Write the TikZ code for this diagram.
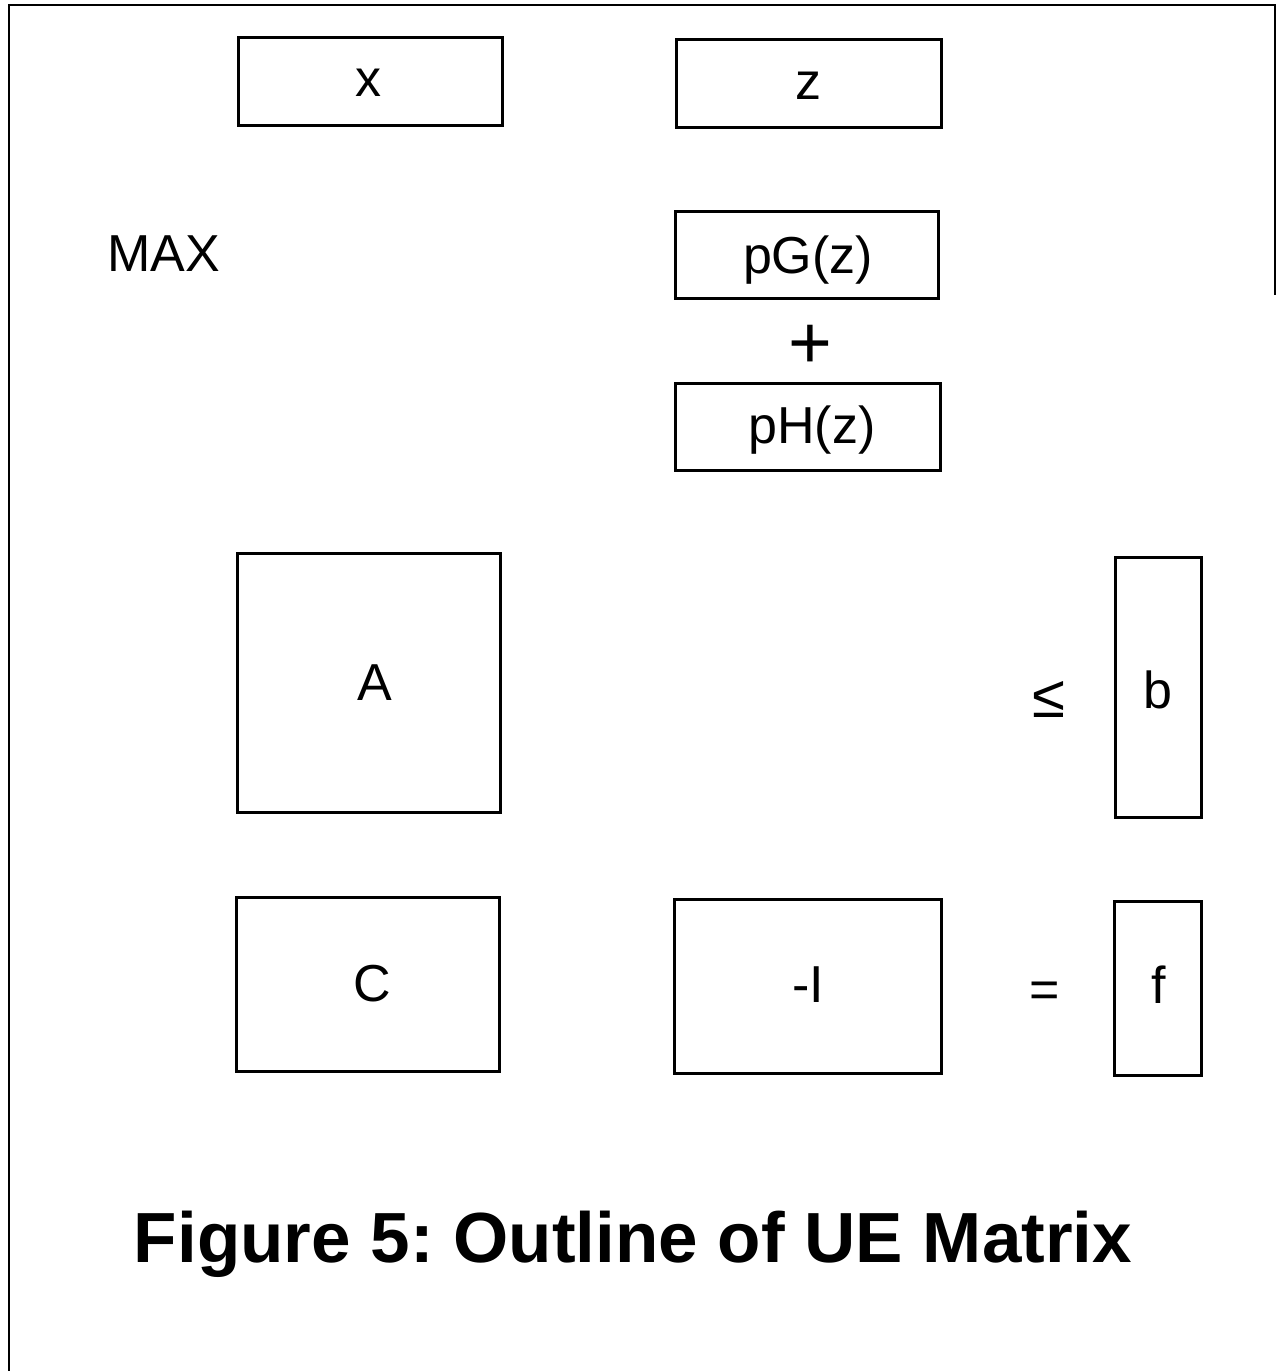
\documentclass[tikz,border=0pt]{standalone}
\usepackage{fontspec}
\setmainfont{Liberation Sans}
\frenchspacing
\begin{document}
\begin{tikzpicture}[x=1pt,y=-1pt,
  mbox/.style={draw,line width=3pt},
  lbl/.style={font=\fontsize{52}{60}\selectfont, inner sep=0pt},
  frame/.style={line width=2.5pt}]
\useasboundingbox (0,0) rectangle (1277,1371);
% frame
\coordinate (ftl) at (9,5);
\coordinate (ftr) at (1275,5);
\coordinate (fbl) at (9,1371);
\coordinate (frb) at (1275,295);
\draw[frame] (fbl) -- (ftl) -- (ftr) -- (frb);
% boxes
\draw[mbox] (238,37) rectangle (502,125);
\node[lbl] (tx) at (368,83) {x};
\draw[mbox] (676,39) rectangle (941,127);
\node[lbl] (tz) at (808,86) {z};
\node[lbl,anchor=west] (max) at (107,254) {MAX};
\draw[mbox] (675,211) rectangle (938,298);
\node[lbl] (tg) at (808,260) {pG(z)};
\node[lbl,font=\fontsize{75}{80}\selectfont] (plus) at (810,347) {+};
\draw[mbox] (675,383) rectangle (940,470);
\node[lbl] (th) at (812,430) {pH(z)};
\draw[mbox] (237,553) rectangle (500,812);
\node[lbl] (ta) at (375,683) {A};
\node[lbl,font=\fontsize{60}{66}\selectfont] (le) at (1049,699) {≤};
\draw[mbox] (1115,557) rectangle (1201,817);
\node[lbl] (tb) at (1158,690) {b};
\draw[mbox] (236,897) rectangle (499,1071);
\node[lbl] (tc) at (372,984) {C};
\draw[mbox] (674,899) rectangle (941,1073);
\node[lbl] (ti) at (808,985) {-I};
\node[lbl] (eq) at (1045,995) {=};
\draw[mbox] (1114,901) rectangle (1201,1075);
\node[lbl] (tf) at (1159,985) {f};
\node[font=\fontsize{71}{80}\selectfont\bfseries, inner sep=0pt, anchor=base] (title) at (633,1262) {Figure 5: Outline of UE Matrix};
\end{tikzpicture}
\end{document}
